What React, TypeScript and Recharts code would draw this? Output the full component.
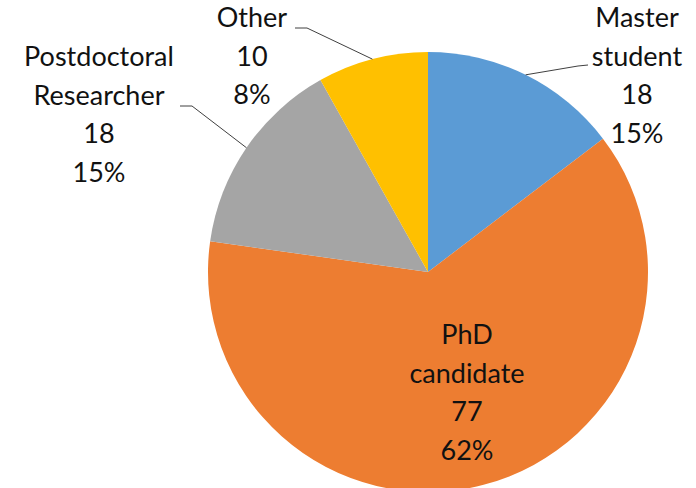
import { Pie, PieChart, Cell } from "recharts";

const categories = ["Master student", "PhD candidate", "Postdoctoral Researcher", "Other"];
const counts = [18, 77, 18, 10];
const percentLabels = ["15%", "62%", "15%", "8%"];
const colors = ["#5B9BD5", "#ED7D31", "#A5A5A5", "#FFC000"];

const data = categories.map((name, i) => ({ name, value: counts[i] }));

// label block placement, relative to the pie centre
// tx/ty = centre x and first baseline of the text, elbow = where leader bends
const labelLayout: any[] = [
  { tx: 209, ty: -245, elbow: [150, -206], end: [160, -207] },
  { tx: 39, ty: 72 },
  { tx: -329, ty: -206, elbow: [-236, -166], end: [-248, -166] },
  { tx: -176, ty: -245, elbow: [-121, -244], end: [-133, -244] },
];

const RAD = Math.PI / 180;
const LINE_H = 38.7;

const renderLabel = (props: any) => {
  const { cx, cy, midAngle, outerRadius, index } = props;
  const lay = labelLayout[index];
  const lines = [
    ...categories[index].split(" "),
    String(counts[index]),
    percentLabels[index],
  ];
  const sx = cx + outerRadius * Math.cos(-midAngle * RAD);
  const sy = cy + outerRadius * Math.sin(-midAngle * RAD);
  return (
    <g key={"lbl-" + index}>
      {lay.elbow && (
        <polyline
          points={`${sx},${sy} ${cx + lay.elbow[0]},${cy + lay.elbow[1]} ${cx + lay.end[0]},${cy + lay.end[1]}`}
          fill="none"
          stroke="#404040"
          strokeWidth={1}
        />
      )}
      {lines.map((t, i) => (
        <text
          key={i}
          x={cx + lay.tx}
          y={cy + lay.ty + i * LINE_H}
          textAnchor="middle"
          fill="#111"
          fontSize={27}
          fontFamily="Lato, 'Open Sans', sans-serif"
        >
          {t}
        </text>
      ))}
    </g>
  );
};

const App = () => {
  return (
    <div style={{ position: "absolute", left: 0, top: 0, width: 696, height: 488, background: "#fff" }}>
      <PieChart width={696} height={488} margin={{ top: 0, right: 0, bottom: 0, left: 0 }}>
        <Pie
          data={data}
          dataKey="value"
          nameKey="name"
          cx={428}
          cy={272}
          outerRadius={220}
          startAngle={90}
          endAngle={-270}
          stroke="none"
          label={renderLabel}
          labelLine={false}
          isAnimationActive={false}
        >
          {data.map((d, i) => (
            <Cell key={d.name} fill={colors[i]} />
          ))}
        </Pie>
      </PieChart>
    </div>
  );
};

export default App;
